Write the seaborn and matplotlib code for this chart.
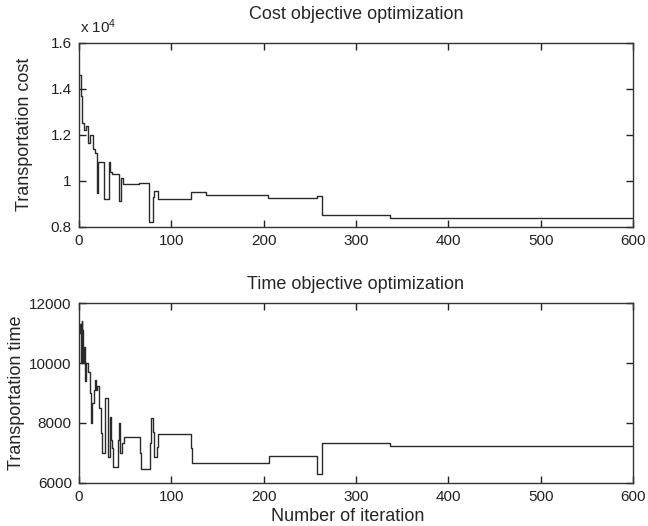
import numpy as np
import pandas as pd
import matplotlib
matplotlib.use("Agg")
import matplotlib.pyplot as plt
from matplotlib.ticker import FuncFormatter
import seaborn as sns

# ---- data ----
cost_iter = [0, 2, 3, 6, 8, 10, 12, 15, 18, 20, 21, 27, 33, 34, 36, 44, 46, 48,
             65, 76, 80, 81, 86, 122, 138, 205, 258, 263, 337, 600]
cost_value = [14600, 13700, 12500, 12200, 12400, 11650, 12000, 11400, 11200, 9450,
              10800, 9200, 10800, 10400, 10300, 9100, 10100, 9850,
              9900, 8220, 9300, 9550, 9200, 9520, 9400, 9260, 9350, 8510, 8390, 8390]

time_iter = [0, 1, 2, 3, 4, 5, 6, 7, 8, 10, 12, 13, 14.5, 16, 17.5, 19, 20, 21.5,
             24, 25, 28, 32, 34, 35, 36, 37, 42, 44, 45, 47, 49, 66, 67, 77, 78,
             80, 81, 85, 86, 121, 123, 206, 258, 263, 337, 600]
time_value = [11000, 11300, 10000, 11400, 11100, 10000, 10550, 9400, 10000, 9700,
              9000, 8000, 8650, 9100, 9430, 9100, 9250, 8500,
              7650, 6980, 8820, 6870, 8210, 7430, 7150, 6540, 7430, 8000, 6980, 7320,
              7540, 6980, 6450, 7320, 8150, 7700, 6870, 7200, 7630, 7150, 6650,
              6900, 6300, 7320, 7230, 7230]

x_ticks = [0, 100, 200, 300, 400, 500, 600]
cost_ticks = [0.8, 1.0, 1.2, 1.4, 1.6]
time_ticks = [6000, 8000, 10000, 12000]

cost_df = pd.DataFrame({"iteration": cost_iter, "cost": np.array(cost_value) / 1e4})
time_df = pd.DataFrame({"iteration": time_iter, "time": time_value})

# ---- style ----
sns.set_style("white")
plt.rcParams["font.family"] = ["Liberation Sans", "DejaVu Sans"]
plt.rcParams["mathtext.fontset"] = "custom"
plt.rcParams["mathtext.rm"] = "Liberation Sans"
plt.rcParams["mathtext.default"] = "regular"

line_color = "#2a2a2a"
spine_color = "#333333"

fig = plt.figure(figsize=(6.48, 5.26), dpi=100)
ax1 = fig.add_axes([0.1216, 0.569, 0.8553, 0.3498])
ax2 = fig.add_axes([0.1216, 0.0823, 0.8553, 0.3411])

sns.lineplot(data=cost_df, x="iteration", y="cost", ax=ax1, estimator=None,
             sort=False, drawstyle="steps-post", color=line_color, linewidth=1.0)
sns.lineplot(data=time_df, x="iteration", y="time", ax=ax2, estimator=None,
             sort=False, drawstyle="steps-post", color=line_color, linewidth=1.0)

for ax in (ax1, ax2):
    ax.set_xlim(0, 600)
    ax.set_xticks(x_ticks)
    ax.tick_params(direction="in", length=5, width=1, colors="#222222",
                   labelsize=11, pad=5, top=True, right=True,
                   bottom=True, left=True)
    for s in ax.spines.values():
        s.set_color(spine_color)
        s.set_linewidth(1.0)
        s.set_visible(True)

ax1.set_ylim(0.8, 1.6)
ax1.set_yticks(cost_ticks)
ax1.yaxis.set_major_formatter(FuncFormatter(lambda v, p: f"{v:g}"))
ax2.set_ylim(6000, 12000)
ax2.set_yticks(time_ticks)

ax1.set_title("Cost objective optimization", fontsize=13, pad=17)
ax2.set_title("Time objective optimization", fontsize=13, pad=10)

ax1.set_xlabel("")
ax1.set_ylabel("Transportation cost", fontsize=13)
ax1.yaxis.set_label_coords(-0.082, 0.5)
ax2.set_ylabel("Transportation time", fontsize=13)
ax2.yaxis.set_label_coords(-0.097, 0.5)
ax2.set_xlabel("Number of iteration", fontsize=13)
ax2.xaxis.set_label_coords(0.485, -0.14)

fig.text(80 / 648, 1 - 33.5 / 526, "x 10$^{4}$", fontsize=11,
         ha="left", va="baseline", color="#222222")

fig.savefig("out.png", dpi=100, facecolor="white")
